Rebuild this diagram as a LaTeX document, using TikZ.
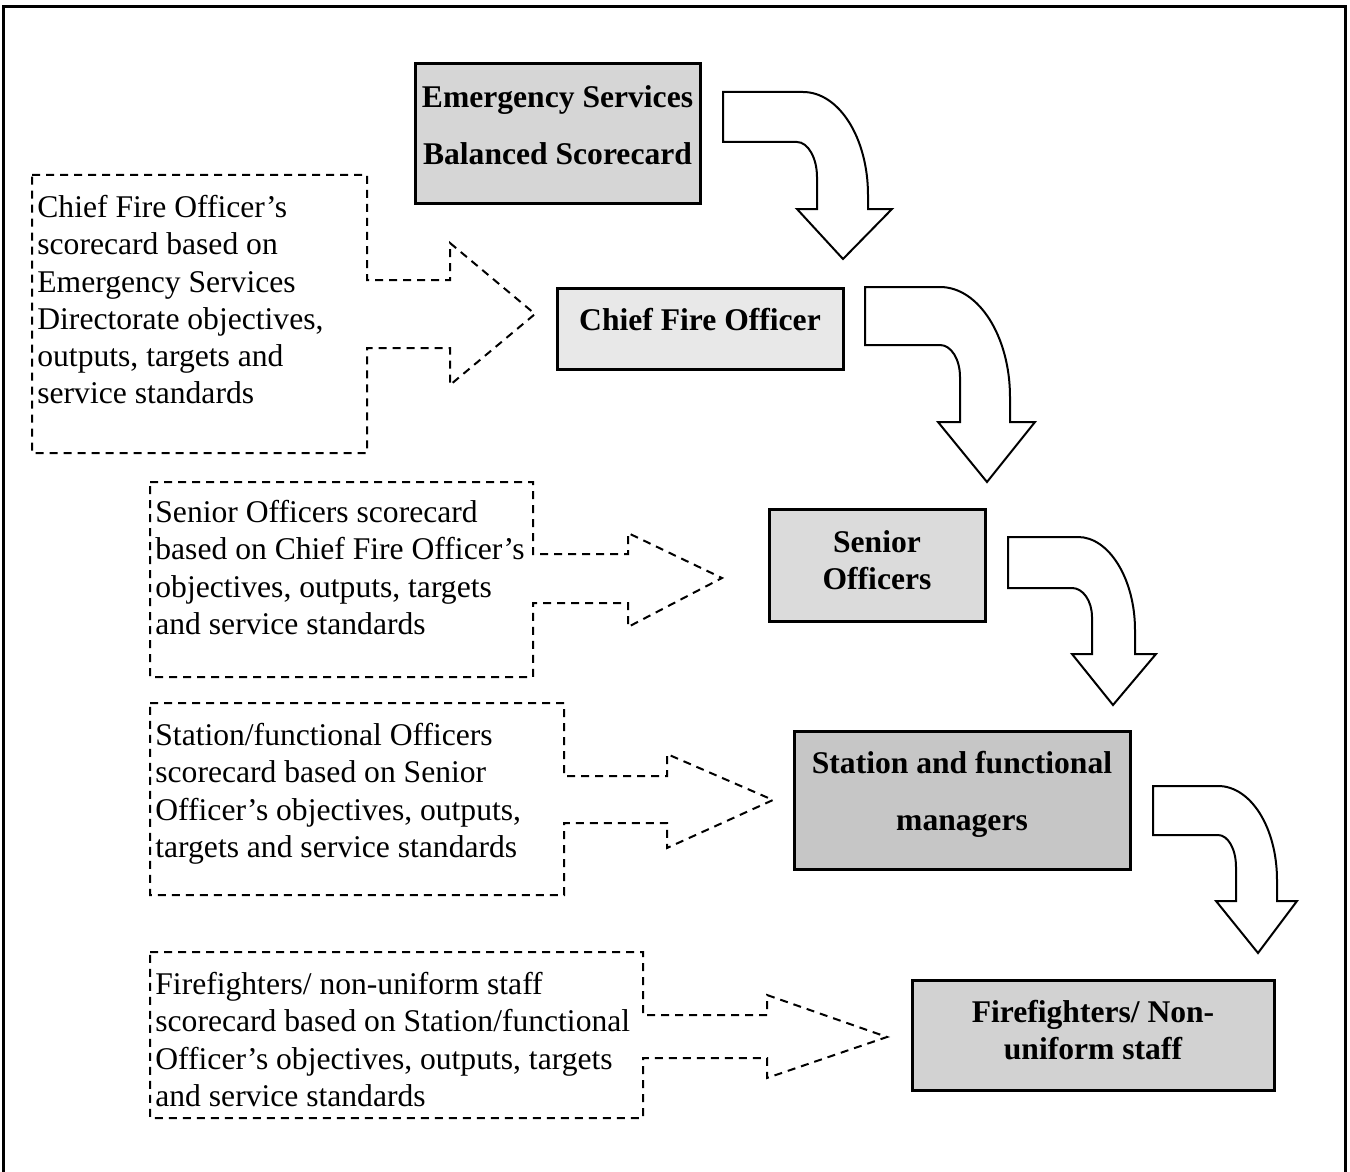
\documentclass[tikz,border=0pt]{standalone}
\usepackage{fontspec}
\setmainfont{Liberation Serif}

\begin{document}
\begin{tikzpicture}[x=0.5pt, y=-0.5pt,
  level/.style={draw, line width=1.5pt, align=center, inner sep=0pt, font=\bfseries\fontsize{15.8}{18.6}\selectfont},
  widelevel/.style={level, font=\bfseries\fontsize{15.8}{28.5}\selectfont},
  note/.style={anchor=north west, align=left, inner sep=0pt, font=\fontsize{15.8}{18.6}\selectfont},
  callout/.style={draw, dash pattern=on 4pt off 3pt, line width=1pt},
  turnarrow/.style={draw, fill=white, line width=1pt},
]
\useasboundingbox (0,0) rectangle (1350,1172);
\draw[line width=1.5pt] (3,1172) -- (3,7) -- (1345,7) -- (1345,1172);

% levels
\node[widelevel, fill=gray!32, minimum width=142.5pt, minimum height=69.5pt, text depth=8pt] (esbsc) at (557.5,133.5) {Emergency Services\\Balanced Scorecard};
\node[level, fill=gray!18, minimum width=143pt, minimum height=40.5pt, text depth=9pt] (cfo) at (700,328.5) {Chief Fire Officer};
\node[level, fill=gray!28, minimum width=108pt, minimum height=56pt, text depth=5pt] (senior) at (877,565) {Senior\\Officers};
\node[widelevel, fill=gray!45, minimum width=168pt, minimum height=69pt, text depth=9.5pt] (station) at (962,800) {Station and functional\\managers};
\node[level, fill=gray!35, minimum width=181pt, minimum height=55pt, text depth=5pt] (staff) at (1093,1035) {Firefighters/ Non-\\uniform staff};

% curved arrows down the levels
\draw[turnarrow] (723,92) -- (803,92) .. controls +(36,0) and +(0,-57) .. (868,195) -- (868,209) -- (892,209) -- (843,259) -- (797,209) -- (817,209) -- (817,177) .. controls +(0,-19) and +(11,0) .. (797,142) -- (723,142) -- cycle;
\draw[turnarrow] (865,287) -- (940,287) .. controls +(39,0) and +(0,-60) .. (1010,397) -- (1010,422) -- (1035,422) -- (987,482) -- (938,422) -- (960,422) -- (960,377) .. controls +(0,-18) and +(11,0) .. (940,345) -- (865,345) -- cycle;
\draw[turnarrow] (1008,537) -- (1078,537) .. controls +(31,0) and +(0,-51) .. (1135,630) -- (1135,654) -- (1156,654) -- (1113,705) -- (1072,654) -- (1092,654) -- (1092,617) .. controls +(0,-16) and +(11,0) .. (1072,588) -- (1008,588) -- cycle;
\draw[turnarrow] (1153,786) -- (1218,786) .. controls +(33,0) and +(0,-52) .. (1277,880) -- (1277,901) -- (1297,901) -- (1258,953) -- (1216,901) -- (1236,901) -- (1236,867) .. controls +(0,-18) and +(10,0) .. (1218,835) -- (1153,835) -- cycle;

% scorecards
\draw[callout] (32,175) -- (367,175) -- (367,280) -- (450,280) -- (450,243) -- (535,314) -- (450,385) -- (450,348) -- (367,348) -- (367,453) -- (32,453) -- cycle;
\draw[callout] (150,482) -- (533,482) -- (533,554) -- (628,554) -- (628,533) -- (722,578) -- (628,627) -- (628,603) -- (533,603) -- (533,677) -- (150,677) -- cycle;
\draw[callout] (150,703) -- (564,703) -- (564,776) -- (667,776) -- (667,754) -- (773,800) -- (667,848) -- (667,823) -- (564,823) -- (564,895) -- (150,895) -- cycle;
\draw[callout] (150,952) -- (643,952) -- (643,1015) -- (767,1015) -- (767,995) -- (887,1037) -- (767,1078) -- (767,1058) -- (643,1058) -- (643,1118) -- (150,1118) -- cycle;

\node[note] (cfonote) at (37,195) {Chief Fire Officer’s\\scorecard based on\\Emergency Services\\Directorate objectives,\\outputs, targets and\\service standards};
\node[note] (seniornote) at (155,500) {Senior Officers scorecard\\based on Chief Fire Officer’s\\objectives, outputs, targets\\and service standards};
\node[note] (stationnote) at (155,723) {Station/functional Officers\\scorecard based on Senior\\Officer’s objectives, outputs,\\targets and service standards};
\node[note] (staffnote) at (155,972) {Firefighters/ non-uniform staff\\scorecard based on Station/functional\\Officer’s objectives, outputs, targets\\and service standards};
\end{tikzpicture}
\end{document}
